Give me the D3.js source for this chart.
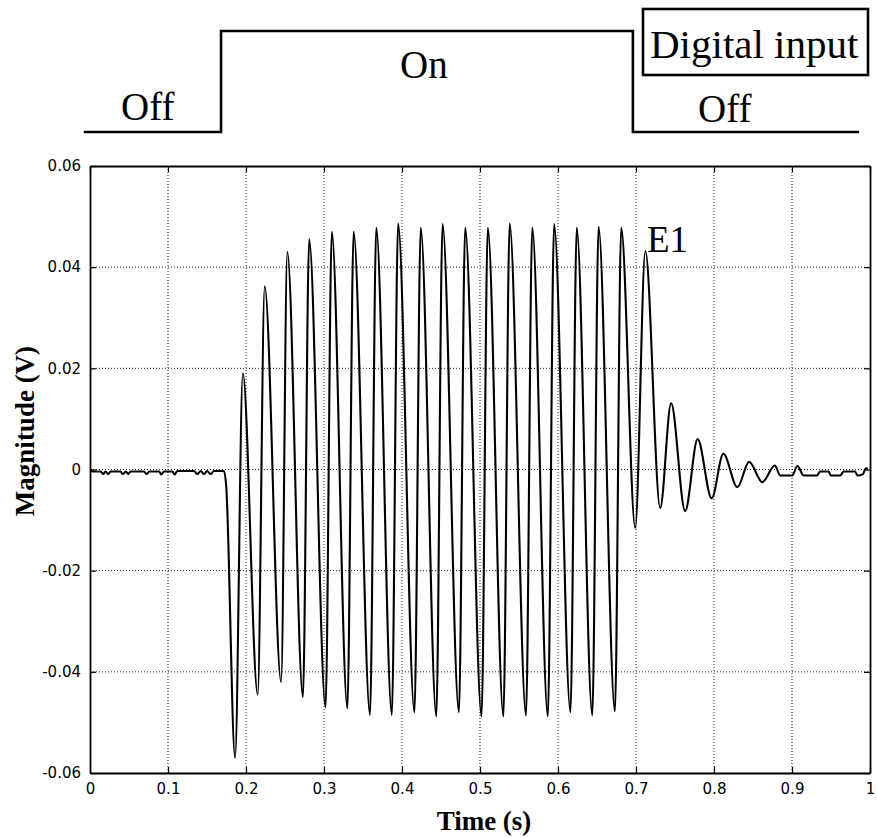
<!DOCTYPE html>
<html>
<head>
<meta charset="utf-8">
<script src="https://cdn.jsdelivr.net/npm/d3@7"></script>
<style>
  html, body { margin: 0; padding: 0; background: #fff; }
  svg { display: block; }
</style>
</head>
<body>
<svg id="chart" width="877" height="838"></svg>
<script>
// ---------------- data ----------------
const xTicks = [0, 0.1, 0.2, 0.3, 0.4, 0.5, 0.6, 0.7, 0.8, 0.9, 1];
const xTickLabels = ["0", "0.1", "0.2", "0.3", "0.4", "0.5", "0.6", "0.7", "0.8", "0.9", "1"];
const yTicks = [-0.06, -0.04, -0.02, 0, 0.02, 0.04, 0.06];
const yTickLabels = ["-0.06", "-0.04", "-0.02", "0", "0.02", "0.04", "0.06"];

// measured signal (time in s, magnitude in V)
const signalTime = [
  0, 0.003, 0.0137, 0.0167, 0.020, 0.023, 0.0265, 0.039, 0.042, 0.046, 0.049, 0.052,
  0.069, 0.0727, 0.076, 0.0885, 0.0915, 0.0949, 0.1056, 0.1085, 0.112, 0.1333, 0.1376,
  0.142, 0.146, 0.150, 0.1547, 0.159, 0.1718, 0.1745,
  0.186, 0.196, 0.215, 0.224, 0.245, 0.253, 0.273, 0.281, 0.302, 0.310, 0.330, 0.338,
  0.359, 0.367, 0.387, 0.395, 0.416, 0.424, 0.444, 0.452, 0.473, 0.481, 0.502, 0.510,
  0.530, 0.538, 0.559, 0.567, 0.587, 0.595, 0.616, 0.624, 0.644, 0.652, 0.673, 0.681,
  0.699, 0.712, 0.731, 0.745, 0.763, 0.779, 0.797, 0.812, 0.830, 0.845, 0.862, 0.878,
  0.885, 0.900, 0.907, 0.915, 0.932, 0.936, 0.947, 0.950, 0.962, 0.966, 0.981, 0.984,
  0.991, 0.994, 0.997
];
const signalValue = [
  0.0002, -0.0004, -0.0004, -0.0009, -0.0004, -0.0009, -0.0004, -0.0004, -0.0009, -0.0004, -0.0009, -0.0004,
  -0.0004, -0.0009, -0.0004, -0.0004, -0.0010, -0.0004, -0.0004, -0.0010, -0.0003, -0.0003, -0.0009,
  -0.0003, -0.0009, -0.0003, -0.0009, -0.0003, -0.0003, -0.0030,
  -0.0570, 0.0190, -0.0445, 0.0362, -0.0420, 0.0430, -0.0450, 0.0455, -0.0470, 0.0470, -0.0472, 0.0470,
  -0.0485, 0.0478, -0.0485, 0.0486, -0.0480, 0.0478, -0.0488, 0.0485, -0.0480, 0.0478, -0.0488, 0.0478,
  -0.0488, 0.0486, -0.0486, 0.0478, -0.0488, 0.0485, -0.0480, 0.0478, -0.0486, 0.0480, -0.0478, 0.0478,
  -0.0115, 0.0432, -0.0076, 0.0131, -0.0082, 0.0060, -0.0057, 0.0031, -0.0035, 0.0015, -0.0025, 0.0008,
  -0.0012, -0.0012, 0.0007, -0.0012, -0.0012, -0.0004, -0.0004, -0.0012, -0.0012, -0.0004, -0.0004, -0.0012,
  -0.0009, 0.0001, 0.0003
];

// digital input trace (0 = Off, 1 = On)
const digitalTime = [-0.008, 0.168, 0.696, 0.986];
const digitalState = [0, 1, 0, 0];
const stateLabels = ["Off", "On", "Off"];
const legendLabel = "Digital input";
const peakLabel = "E1";
const xTitle = "Time (s)";
const yTitle = "Magnitude (V)";

// ---------------- layout ----------------
const svg = d3.select("#chart");
const L = 90, R = 870, T = 166, B = 773;

const x = d3.scaleLinear().domain([0, 1]).range([L, R]);
const y = d3.scaleLinear().domain([-0.06, 0.06]).range([B, T]);
const yDig = d3.scaleLinear().domain([0, 1]).range([132, 31]);

const serif = "'Liberation Serif', 'Times New Roman', serif";
const sans = "'DejaVu Sans', sans-serif";

// ---------------- digital input strip ----------------
const stepLine = d3.line()
  .x((d, i) => x(digitalTime[i]))
  .y((d, i) => yDig(digitalState[i]))
  .curve(d3.curveStepAfter);
svg.append("path")
  .attr("d", stepLine(digitalTime))
  .attr("fill", "none")
  .attr("stroke", "#000")
  .attr("stroke-width", 2.6);

svg.append("text").attr("x", 121).attr("y", 120)
  .attr("font-family", serif).attr("font-size", 39).text(stateLabels[0]);
svg.append("text").attr("x", 400).attr("y", 78)
  .attr("font-family", serif).attr("font-size", 39).text(stateLabels[1]);
svg.append("text").attr("x", 698).attr("y", 122)
  .attr("font-family", serif).attr("font-size", 39).text(stateLabels[2]);

svg.append("rect").attr("x", 643).attr("y", 9).attr("width", 225).attr("height", 66)
  .attr("fill", "none").attr("stroke", "#000").attr("stroke-width", 2.6);
svg.append("text").attr("x", 650).attr("y", 58)
  .attr("font-family", serif).attr("font-size", 41).text(legendLabel);

// ---------------- grid ----------------
const grid = svg.append("g");
grid.selectAll("line.gx").data(xTicks.filter(v => v > 0 && v < 1)).enter()
  .append("line")
  .attr("x1", d => x(d)).attr("x2", d => x(d))
  .attr("y1", T).attr("y2", B)
  .attr("stroke", "#222").attr("stroke-width", 1).attr("stroke-dasharray", "1,2");
grid.selectAll("line.gy").data(yTicks.filter(v => v > -0.06 && v < 0.06)).enter()
  .append("line")
  .attr("y1", d => y(d)).attr("y2", d => y(d))
  .attr("x1", L).attr("x2", R)
  .attr("stroke", "#222").attr("stroke-width", 1).attr("stroke-dasharray", "1,2");

// ---------------- signal ----------------
svg.append("clipPath").attr("id", "clip")
  .append("rect").attr("x", L).attr("y", T).attr("width", R - L).attr("height", B - T);

const sigLine = d3.line()
  .x((d, i) => x(signalTime[i]))
  .y((d, i) => y(signalValue[i]))
  .curve(d3.curveMonotoneX);
svg.append("path")
  .attr("d", sigLine(signalTime))
  .attr("clip-path", "url(#clip)")
  .attr("fill", "none")
  .attr("stroke", "#000")
  .attr("stroke-width", 2.1)
  .attr("stroke-linejoin", "round");

// ---------------- axes ----------------
const xAxisB = d3.axisBottom(x).tickValues(xTicks).tickSizeInner(-6).tickSizeOuter(0)
  .tickPadding(10).tickFormat((d, i) => xTickLabels[i]);
const xAxisT = d3.axisTop(x).tickValues(xTicks).tickSizeInner(-6).tickSizeOuter(0).tickFormat("");
const yAxisL = d3.axisLeft(y).tickValues(yTicks).tickSizeInner(-6).tickSizeOuter(0)
  .tickPadding(9).tickFormat((d, i) => yTickLabels[i]);
const yAxisR = d3.axisRight(y).tickValues(yTicks).tickSizeInner(-6).tickSizeOuter(0).tickFormat("");

function styleAxis(g) {
  g.select(".domain").attr("stroke", "#000").attr("stroke-width", 1.8);
  g.selectAll(".tick line").attr("stroke", "#000").attr("stroke-width", 1.2);
  g.selectAll(".tick text").attr("fill", "#000").attr("font-family", sans).attr("font-size", 15);
}
svg.append("g").attr("transform", `translate(0,${B})`).call(xAxisB).call(styleAxis);
svg.append("g").attr("transform", `translate(0,${T})`).call(xAxisT).call(styleAxis);
svg.append("g").attr("transform", `translate(${L},0)`).call(yAxisL).call(styleAxis);
svg.append("g").attr("transform", `translate(${R},0)`).call(yAxisR).call(styleAxis);

// ---------------- labels ----------------
svg.append("text").attr("x", 647).attr("y", 252)
  .attr("font-family", serif).attr("font-size", 37).text(peakLabel);

svg.append("text").attr("x", 484).attr("y", 830)
  .attr("text-anchor", "middle").attr("font-family", serif)
  .attr("font-weight", "bold").attr("font-size", 27).text(xTitle);

svg.append("text")
  .attr("transform", "translate(34,431) rotate(-90)")
  .attr("text-anchor", "middle").attr("font-family", serif)
  .attr("font-weight", "bold").attr("font-size", 27).text(yTitle);
</script>
</body>
</html>
